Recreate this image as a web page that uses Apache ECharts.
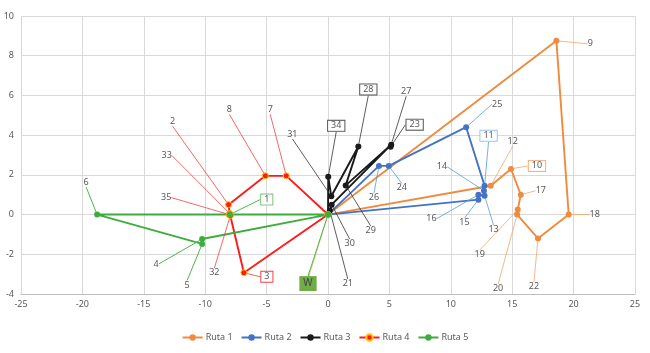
<!DOCTYPE html>
<html>
<head>
<meta charset="utf-8">
<script src="https://cdn.jsdelivr.net/npm/echarts@6/dist/echarts.min.js"></script>
<style>
  html, body { margin: 0; padding: 0; background: #fff; }
  #chart { width: 650px; height: 353px; }
</style>
</head>
<body>
<div id="chart"></div>
<script>
// route points: [x, y], with stop ids (W = depot)
const ruta1 = [[0, 0], [18.6, 8.75], [19.6, 0], [17.1, -1.2], [15.4, 0], [15.45, 0.25], [15.7, 1.0], [14.9, 2.3], [13.25, 1.45], [0, 0]];
const ruta1Ids = ['W', '9', '18', '22', '20', '19', '17', '10', '12', ''];

const ruta2 = [[0, 0], [4.15, 2.45], [4.95, 2.45], [11.25, 4.4], [12.75, 1.45], [12.7, 1.2], [12.75, 0.95], [12.25, 1.0], [12.25, 0.75], [0, 0]];
const ruta2Ids = ['', '26', '24', '25', '11', '14', '13', '16', '15', ''];

const ruta3 = [[0, 0], [0.02, 1.9], [0.27, 0.92], [2.47, 3.43], [1.44, 1.47], [5.15, 3.52], [5.1, 3.42], [0.3, 0.5], [0.15, 0.2], [0, 0]];
const ruta3Ids = ['', '34', '31', '28', '29', '27', '23', '30', '21', ''];

const ruta4 = [[0, 0], [-3.4, 1.95], [-5.1, 1.95], [-8.1, 0.5], [-8.0, 0.05], [-8.05, 0], [-7.95, -0.05], [-6.85, -2.93], [0, 0]];
const ruta4Ids = ['', '7', '8', '2', '33', '35', '32', '3', ''];

const ruta5 = [[0, 0], [-8.0, 0], [-18.8, 0], [-10.25, -1.48], [-10.25, -1.23], [0, 0]];
const ruta5Ids = ['W', '1', '6', '5', '4', ''];

const seriesNames = ['Ruta 1', 'Ruta 2', 'Ruta 3', 'Ruta 4', 'Ruta 5'];

// label offsets in px (label centre relative to point), same order as the ids
const offsets = [
  [[-20, 69], [34, 3], [26, 0], [-4, 48], [-19, 74], [-38, 45], [20, -4], [26, -3], [22, -44], [0, 0]],
  [[0, 0], [-5, 32], [13, 22], [31, -23], [4, -50], [-42, -24], [9, 34], [-47, 24], [-14, 23], [0, 0]],
  [[0, 0], [8, -51], [-39, -62], [10, -57], [25, 45], [15, -53], [24, -22], [18, 39], [18, 73], [0, 0]],
  [[0, 0], [-16, -66], [-36, -66], [-56, -83], [-63, -58], [-63, -17], [-16, 57], [23, 4], [0, 0]],
  [[-20, 69], [37, -15], [-11, -32], [-15, 41], [-46, 25], [0, 0]]
];

const colors = ['#F08A3E', '#4472C4', '#1A1A1A', '#FF1A1A', '#3DAE3D'];
const leaderColors = ['#F5A46A', '#5B9BD5', '#333333', '#F04040', '#4CB84C'];
const boxed = { '1': '#7CC47C', '3': '#F04040', '10': '#F5B080', '11': '#9DC3E6', '23': '#555', '28': '#555', '34': '#555' };

const routes = [ruta1, ruta2, ruta3, ruta4, ruta5];
const ids = [ruta1Ids, ruta2Ids, ruta3Ids, ruta4Ids, ruta5Ids];

const chart = echarts.init(document.getElementById('chart'));
const font = 'Noto Sans';

const series = routes.map((pts, si) => ({
  name: seriesNames[si],
  type: 'line',
  data: pts.map((p, i) => {
    const id = ids[si][i];
    const item = { value: p, name: id };
    if (boxed[id]) {
      item.label = { borderColor: boxed[id], borderWidth: 1, padding: [1, 3, 0, 3], backgroundColor: '#fff' };
    }
    if (id === 'W') {
      item.label = si === 4
        ? { backgroundColor: '#70AD47', padding: [3, 4, 2, 4], color: '#404040', fontSize: 10 }
        : { color: 'rgba(0,0,0,0)' };
    }
    return item;
  }),
  symbol: 'circle',
  symbolSize: 6,
  showSymbol: true,
  lineStyle: { color: colors[si], width: 1.9 },
  itemStyle: si === 3
    ? { color: colors[si], borderColor: '#FFC000', borderWidth: 1 }
    : { color: colors[si] },
  label: {
    show: true,
    position: 'inside',
    formatter: (p) => p.name,
    color: '#595959',
    fontFamily: font,
    fontSize: 9
  },
  labelLine: {
    show: true,
    lineStyle: { color: leaderColors[si], width: si === 4 ? 1 : 0.8 }
  },
  labelLayout: (params) => {
    const o = offsets[si][params.dataIndex] || [0, 0];
    return { dx: o[0], dy: o[1], hideOverlap: false };
  },
  emphasis: { disabled: true },
  animation: false
}));

const option = {
  animation: false,
  color: colors,
  grid: { left: 21, right: 15, top: 16, bottom: 59 },
  xAxis: {
    type: 'value',
    min: -25,
    max: 25,
    interval: 5,
    axisLine: { show: true, onZero: false, lineStyle: { color: '#BFBFBF' } },
    axisTick: { show: false },
    splitLine: { lineStyle: { color: '#D9D9D9' } },
    axisLabel: { color: '#595959', fontFamily: font, fontSize: 9, margin: 6 }
  },
  yAxis: {
    type: 'value',
    min: -4,
    max: 10,
    interval: 2,
    axisLine: { show: false },
    axisTick: { show: false },
    splitLine: { lineStyle: { color: '#D9D9D9' } },
    axisLabel: { color: '#595959', fontFamily: font, fontSize: 9, margin: 7 }
  },
  legend: {
    bottom: 6,
    left: 'center',
    itemWidth: 20,
    itemHeight: 8,
    itemGap: 8,
    textStyle: { color: '#595959', fontFamily: font, fontSize: 9, padding: [0, 0, 0, -2] },
    data: seriesNames
  },
  series: series
};

chart.setOption(option);
</script>
</body>
</html>
